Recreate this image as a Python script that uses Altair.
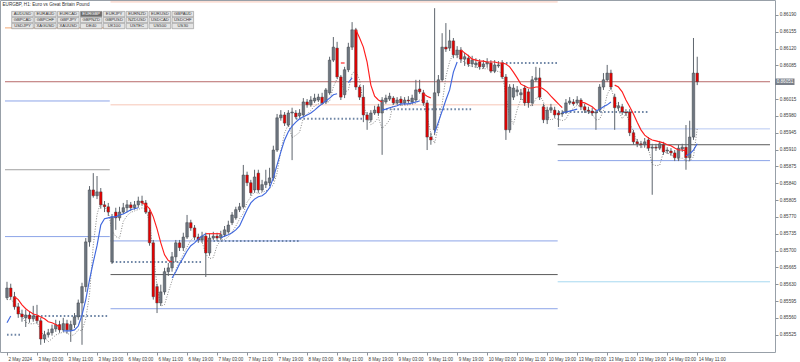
import altair as alt
import pandas as pd

TITLE_TEXT = "EURGBP, H1:  Euro vs Great Britain Pound"
BUTTONS = ["AUDUSD", "EURAUD", "EURCAD", "EURGBP", "EURJPY", "EURNZD", "EURUSD", "GBPAUD",
           "GBPCAD", "GBPCHF", "GBPJPY", "GBPNZD", "GBPUSD", "NZDUSD", "USDCAD", "USDCHF",
           "USDJPY", "XAGUSD", "XAUUSD", "DE40", "UK100", "USTEC", "US500", "US30"]
ACTIVE = "EURGBP"

TIME_LABELS = ["2 May 2024", "3 May 03:00", "3 May 11:00", "3 May 19:00", "6 May 03:00",
               "6 May 11:00", "6 May 19:00", "7 May 03:00", "7 May 11:00", "7 May 19:00",
               "8 May 03:00", "8 May 11:00", "8 May 19:00", "9 May 03:00", "9 May 11:00",
               "9 May 19:00", "10 May 03:00", "10 May 11:00", "10 May 19:00", "13 May 03:00",
               "13 May 11:00", "13 May 19:00", "14 May 03:00", "14 May 11:00"]

OPEN = [
    0.85602, 0.85622, 0.85604, 0.85583, 0.85568, 0.85560, 0.85566, 0.85558, 0.85564, 0.85554,
    0.85516, 0.85525, 0.85529, 0.85537, 0.85546, 0.85535, 0.85548, 0.85535, 0.85546, 0.85562,
    0.85591, 0.85625, 0.85718, 0.85826, 0.85814, 0.85822, 0.85795, 0.85791, 0.85676, 0.85780,
    0.85768, 0.85780, 0.85789, 0.85795, 0.85789, 0.85795, 0.85803, 0.85799, 0.85780, 0.85716,
    0.85625, 0.85591, 0.85614, 0.85656, 0.85664, 0.85687, 0.85716, 0.85706, 0.85728, 0.85758,
    0.85747, 0.85728, 0.85722, 0.85730, 0.85695, 0.85726, 0.85730, 0.85726, 0.85733, 0.85739,
    0.85758, 0.85768, 0.85785, 0.85791, 0.85857, 0.85841, 0.85826, 0.85861, 0.85826, 0.85837,
    0.85841, 0.85851, 0.85909, 0.85976, 0.85982, 0.85961, 0.85986, 0.85986, 0.85980, 0.85982,
    0.86009, 0.86003, 0.86011, 0.86013, 0.86019, 0.86009, 0.86028, 0.86096, 0.86121, 0.86061,
    0.86024, 0.86076, 0.86123, 0.86159, 0.86040, 0.86019, 0.85982, 0.85972, 0.85986, 0.85999,
    0.85986, 0.86009, 0.86015, 0.86017, 0.86007, 0.86015, 0.86007, 0.86013, 0.86009, 0.86013,
    0.86036, 0.86028, 0.86007, 0.85936, 0.85951, 0.86028, 0.86055, 0.86123, 0.86121, 0.86136,
    0.86107, 0.86117, 0.86098, 0.86100, 0.86088, 0.86086, 0.86092, 0.86082, 0.86088, 0.86090,
    0.86073, 0.86084, 0.86090, 0.86061, 0.85951, 0.86019, 0.86030, 0.86024, 0.86038, 0.86030,
    0.86007, 0.86055, 0.86059, 0.85999, 0.85972, 0.85992, 0.85992, 0.85986, 0.85984, 0.85988,
    0.86007, 0.86009, 0.86007, 0.86013, 0.85999, 0.85992, 0.85990, 0.85986, 0.85992, 0.86040,
    0.86055, 0.86069, 0.86019, 0.85997, 0.85999, 0.85988, 0.85988, 0.85945, 0.85926, 0.85922,
    0.85920, 0.85930, 0.85913, 0.85915, 0.85913, 0.85920, 0.85907, 0.85907, 0.85903, 0.85893,
    0.85911, 0.85915, 0.85893, 0.85936, 0.86069]
HIGH = [
    0.85635, 0.85631, 0.85614, 0.85591, 0.85577, 0.85577, 0.85573, 0.85585, 0.85587, 0.85560,
    0.85533, 0.85537, 0.85546, 0.85556, 0.85554, 0.85560, 0.85556, 0.85554, 0.85570, 0.85598,
    0.85633, 0.85726, 0.85834, 0.85861, 0.85855, 0.85830, 0.85803, 0.85799, 0.85776, 0.85789,
    0.85791, 0.85799, 0.85805, 0.85801, 0.85803, 0.85812, 0.85814, 0.85805, 0.85785, 0.85722,
    0.85631, 0.85629, 0.85664, 0.85674, 0.85697, 0.85722, 0.85722, 0.85737, 0.85774, 0.85764,
    0.85753, 0.85735, 0.85739, 0.85737, 0.85735, 0.85739, 0.85737, 0.85741, 0.85751, 0.85762,
    0.85780, 0.85791, 0.85799, 0.85878, 0.85864, 0.85847, 0.85868, 0.85868, 0.85847, 0.85868,
    0.85872, 0.85918, 0.85984, 0.85992, 0.85988, 0.85992, 0.85997, 0.85992, 0.85994, 0.86017,
    0.86015, 0.86021, 0.86026, 0.86026, 0.86028, 0.86038, 0.86103, 0.86144, 0.86134, 0.86065,
    0.86082, 0.86132, 0.86175, 0.86163, 0.86044, 0.86044, 0.85988, 0.85992, 0.86001, 0.86005,
    0.86019, 0.86024, 0.86028, 0.86021, 0.86019, 0.86021, 0.86019, 0.86021, 0.86024, 0.86055,
    0.86055, 0.86034, 0.86013, 0.85945, 0.86204, 0.86065, 0.86152, 0.86173, 0.86159, 0.86142,
    0.86125, 0.86123, 0.86111, 0.86107, 0.86105, 0.86100, 0.86098, 0.86096, 0.86100, 0.86096,
    0.86096, 0.86094, 0.86096, 0.86067, 0.86046, 0.86046, 0.86042, 0.86036, 0.86044, 0.86036,
    0.86063, 0.86082, 0.86080, 0.86005, 0.85999, 0.86005, 0.85999, 0.85992, 0.85992, 0.86015,
    0.86019, 0.86015, 0.86021, 0.86017, 0.86005, 0.85999, 0.85997, 0.85994, 0.86046, 0.86069,
    0.86086, 0.86076, 0.86026, 0.86009, 0.86005, 0.85994, 0.85994, 0.85951, 0.85932, 0.85928,
    0.85934, 0.85936, 0.85922, 0.85922, 0.85928, 0.85926, 0.85915, 0.85913, 0.85909, 0.85920,
    0.85922, 0.85961, 0.85970, 0.86142, 0.86103]
LOW = [
    0.85598, 0.85598, 0.85577, 0.85560, 0.85552, 0.85541, 0.85550, 0.85552, 0.85548, 0.85504,
    0.85508, 0.85519, 0.85523, 0.85531, 0.85529, 0.85531, 0.85527, 0.85510, 0.85539, 0.85556,
    0.85504, 0.85614, 0.85708, 0.85810, 0.85807, 0.85787, 0.85780, 0.85772, 0.85672, 0.85743,
    0.85762, 0.85776, 0.85780, 0.85782, 0.85785, 0.85789, 0.85793, 0.85776, 0.85710, 0.85598,
    0.85570, 0.85585, 0.85608, 0.85647, 0.85656, 0.85676, 0.85699, 0.85699, 0.85724, 0.85741,
    0.85722, 0.85716, 0.85716, 0.85645, 0.85689, 0.85722, 0.85720, 0.85722, 0.85728, 0.85735,
    0.85753, 0.85764, 0.85780, 0.85787, 0.85834, 0.85814, 0.85820, 0.85820, 0.85822, 0.85830,
    0.85834, 0.85845, 0.85905, 0.85970, 0.85959, 0.85957, 0.85888, 0.85974, 0.85976, 0.85978,
    0.85997, 0.85999, 0.86007, 0.86009, 0.86003, 0.86005, 0.86024, 0.86092, 0.86057, 0.86013,
    0.86017, 0.86071, 0.86117, 0.86034, 0.86013, 0.85967, 0.85951, 0.85967, 0.85982, 0.85980,
    0.85899, 0.86005, 0.86011, 0.86003, 0.86003, 0.86001, 0.86003, 0.86005, 0.86005, 0.86009,
    0.86026, 0.86001, 0.85909, 0.85920, 0.85940, 0.86021, 0.86051, 0.86113, 0.86115, 0.86100,
    0.86100, 0.86090, 0.86084, 0.86082, 0.86082, 0.86080, 0.86076, 0.86078, 0.86080, 0.86069,
    0.86069, 0.86080, 0.86057, 0.85930, 0.85945, 0.86013, 0.86021, 0.86013, 0.86001, 0.85997,
    0.86001, 0.86051, 0.86013, 0.85965, 0.85963, 0.85986, 0.85976, 0.85957, 0.85978, 0.85984,
    0.86003, 0.86001, 0.86003, 0.85992, 0.85986, 0.85984, 0.85980, 0.85951, 0.85988, 0.86034,
    0.86051, 0.86034, 0.85951, 0.85990, 0.85982, 0.85980, 0.85938, 0.85920, 0.85915, 0.85913,
    0.85915, 0.85907, 0.85816, 0.85907, 0.85909, 0.85899, 0.85901, 0.85897, 0.85886, 0.85886,
    0.85905, 0.85868, 0.85886, 0.85930, 0.86044]
CLOSE = [
    0.85622, 0.85604, 0.85583, 0.85568, 0.85562, 0.85566, 0.85558, 0.85564, 0.85554, 0.85516,
    0.85525, 0.85529, 0.85537, 0.85546, 0.85535, 0.85548, 0.85535, 0.85546, 0.85562, 0.85591,
    0.85625, 0.85718, 0.85826, 0.85814, 0.85822, 0.85795, 0.85791, 0.85780, 0.85770, 0.85768,
    0.85780, 0.85789, 0.85795, 0.85789, 0.85795, 0.85803, 0.85799, 0.85780, 0.85716, 0.85604,
    0.85591, 0.85614, 0.85656, 0.85664, 0.85687, 0.85716, 0.85706, 0.85728, 0.85758, 0.85747,
    0.85728, 0.85722, 0.85730, 0.85695, 0.85726, 0.85730, 0.85726, 0.85733, 0.85743, 0.85753,
    0.85774, 0.85785, 0.85791, 0.85857, 0.85841, 0.85820, 0.85853, 0.85826, 0.85837, 0.85843,
    0.85851, 0.85909, 0.85976, 0.85982, 0.85965, 0.85986, 0.85988, 0.85978, 0.85986, 0.86009,
    0.86003, 0.86013, 0.86017, 0.86019, 0.86007, 0.86034, 0.86096, 0.86123, 0.86061, 0.86019,
    0.86076, 0.86123, 0.86159, 0.86040, 0.86019, 0.85982, 0.85972, 0.85986, 0.85992, 0.85986,
    0.86013, 0.86017, 0.86021, 0.86007, 0.86013, 0.86007, 0.86013, 0.86011, 0.86017, 0.86034,
    0.86030, 0.86007, 0.85936, 0.85930, 0.86028, 0.86055, 0.86123, 0.86119, 0.86136, 0.86107,
    0.86117, 0.86098, 0.86103, 0.86088, 0.86096, 0.86090, 0.86082, 0.86088, 0.86092, 0.86073,
    0.86086, 0.86086, 0.86061, 0.85951, 0.86040, 0.86038, 0.86034, 0.86028, 0.86007, 0.86007,
    0.86055, 0.86059, 0.86019, 0.85972, 0.85992, 0.85997, 0.85982, 0.85982, 0.85986, 0.86007,
    0.86011, 0.86005, 0.86013, 0.85999, 0.85992, 0.85990, 0.85986, 0.85988, 0.86040, 0.86055,
    0.86069, 0.86040, 0.85997, 0.86001, 0.85988, 0.85986, 0.85945, 0.85926, 0.85922, 0.85920,
    0.85926, 0.85913, 0.85915, 0.85913, 0.85922, 0.85905, 0.85909, 0.85903, 0.85893, 0.85913,
    0.85915, 0.85893, 0.85936, 0.86069, 0.86051]

# trend line: (colour kind, first bar, values)
TREND = [
    ("blue", 0, [0.85550, 0.85564]),
    ("red", 2, [0.85604, 0.85598, 0.85587, 0.85579, 0.85573, 0.85568, 0.85566, 0.85562, 0.85558,
                0.85552, 0.85550, 0.85546, 0.85541]),
    ("blue", 15, [0.85533, 0.85533, 0.85533, 0.85535, 0.85543, 0.85566, 0.85598, 0.85639, 0.85676,
                  0.85710, 0.85753, 0.85766, 0.85768, 0.85770, 0.85770, 0.85774, 0.85776, 0.85780,
                  0.85785, 0.85787, 0.85789]),
    ("red", 36, [0.85799, 0.85795, 0.85787, 0.85770, 0.85745, 0.85716, 0.85691, 0.85679, 0.85676]),
    ("blue", 44, [0.85643, 0.85656, 0.85672, 0.85685, 0.85699, 0.85710, 0.85716, 0.85724, 0.85730,
                  0.85735]),
    ("red", 53, [0.85735, 0.85735, 0.85735, 0.85735, 0.85735]),
    ("blue", 57, [0.85726, 0.85730, 0.85733, 0.85737, 0.85743, 0.85751, 0.85768, 0.85785, 0.85799,
                  0.85807, 0.85812, 0.85814, 0.85820, 0.85830, 0.85851, 0.85878, 0.85905, 0.85930,
                  0.85947, 0.85959, 0.85967, 0.85974, 0.85978, 0.85982, 0.85986, 0.85992, 0.85999,
                  0.86005, 0.86011, 0.86017, 0.86024, 0.86026]),
    ("red", 89, [0.86090, 0.86090]),
    ("blue", 91, [0.86049, 0.86059]),
    ("red", 93, [0.86159, 0.86142, 0.86123, 0.86092, 0.86044, 0.86021, 0.86013, 0.86009]),
    ("blue", 100, [0.85992, 0.85994, 0.85997, 0.85999, 0.86001, 0.86005, 0.86005, 0.86005, 0.86007,
                   0.86009, 0.86011]),
    ("red", 111, [0.86026, 0.86021, 0.86017]),
    ("blue", 114, [0.85945, 0.85967, 0.85990, 0.86013, 0.86034, 0.86071, 0.86092]),
    ("red", 121, [0.86117, 0.86111, 0.86105, 0.86098, 0.86096, 0.86094, 0.86094, 0.86092, 0.86092,
                  0.86092, 0.86090, 0.86090, 0.86088, 0.86082, 0.86071, 0.86059, 0.86046, 0.86042,
                  0.86038, 0.86038, 0.86040, 0.86040, 0.86036, 0.86030, 0.86021, 0.86013, 0.86005,
                  0.85997]),
    ("blue", 148, [0.85986, 0.85988, 0.85990, 0.85992, 0.85994]),
    ("red", 153, [0.86009, 0.86007, 0.86003, 0.85999, 0.85992]),
    ("blue", 157, [0.85990, 0.85994, 0.85999, 0.86003, 0.86009]),
    ("red", 162, [0.86044, 0.86040, 0.86030, 0.86013, 0.85999, 0.85984, 0.85967, 0.85951, 0.85940,
                  0.85934, 0.85930, 0.85928, 0.85926, 0.85924, 0.85920, 0.85918, 0.85913, 0.85909,
                  0.85909, 0.85907]),
    ("blue", 181, [0.85897, 0.85901, 0.85909, 0.85922]),
]

# dotted support levels (price, first bar, last bar)
SUP_PRICE = [0.85525, 0.85564, 0.85676, 0.85720, 0.85974, 0.85994, 0.86090, 0.85988]
SUP_START = [0, 5, 28, 53, 77, 100, 132, 147]
SUP_END = [4, 27, 52, 78, 95, 124, 147, 171]

# drawn horizontal levels (price, from bar, to bar, kind)
LEVEL_PRICE = [0.86163, 0.86011, 0.85868, 0.85729,
               0.86217, 0.86003, 0.85720, 0.85650, 0.85579,
               0.85953, 0.85920, 0.85887, 0.85635]
LEVEL_START = [-0.53, -0.53, -0.53, -0.53,
               27.6, 27.6, 27.6, 27.6, 27.6,
               146.8, 146.8, 146.8, 146.8]
LEVEL_END = [27.4, 27.4, 27.4, 27.4,
             146.8, 146.8, 146.8, 146.8, 146.8,
             203.4, 203.4, 203.4, 203.4]
LEVEL_KIND = ["orange", "blue", "gray", "blue",
              "pink", "pink", "blue", "black", "blue",
              "lavender", "black", "blue", "cyan"]

CURRENT_PRICE = 0.86051
Y_TICKS = [0.86190, 0.86155, 0.86120, 0.86085, 0.86015, 0.85980, 0.85945, 0.85910, 0.85875,
           0.85840, 0.85805, 0.85770, 0.85735, 0.85700, 0.85665, 0.85630, 0.85595, 0.85560,
           0.85525]
X_DOMAIN = [-0.53, 203.4]
Y_DOMAIN = [0.85489, 0.86221]

assert len(OPEN) == len(HIGH) == len(LOW) == len(CLOSE) == 185

# ---------------------------------------------------------------- frames
candles = pd.DataFrame({"bar": list(range(len(OPEN))), "open": OPEN, "high": HIGH,
                        "low": LOW, "close": CLOSE})
candles["dir"] = ["up" if c >= o else "down" for o, c in zip(OPEN, CLOSE)]

trend_rows = []
for seg, (kind, start, vals) in enumerate(TREND):
    for k, v in enumerate(vals):
        trend_rows.append({"seg": seg, "kind": kind, "bar": start + k, "value": v})
trend = pd.DataFrame(trend_rows)

support = pd.DataFrame({"price": SUP_PRICE, "start": SUP_START, "end": SUP_END})
levels = pd.DataFrame({"price": LEVEL_PRICE, "start": LEVEL_START, "end": LEVEL_END,
                       "kind": LEVEL_KIND})
current = pd.DataFrame({"price": [CURRENT_PRICE], "start": [X_DOMAIN[0]], "end": [X_DOMAIN[1]],
                        "label": [f"{CURRENT_PRICE:.5f}"]})
buttons = pd.DataFrame({"name": BUTTONS, "idx": list(range(len(BUTTONS)))})
buttons["active"] = buttons["name"] == ACTIVE

FONT = "Liberation Sans"
xs = alt.Scale(domain=X_DOMAIN, nice=False, zero=False)
ys = alt.Scale(domain=Y_DOMAIN, nice=False, zero=False)
label_js = "[" + ",".join("'" + t + "'" for t in TIME_LABELS) + "]"
X_AX = alt.Axis(values=list(range(0, 185, 8)), labelExpr=label_js + "[round(datum.value/8)]",
                labelAlign="left", labelBaseline="top", labelOffset=1, labelPadding=1,
                tickSize=3, tickColor="#8c939b", domain=False, grid=False, title=None,
                labelFontSize=4.5, labelFont=FONT, labelColor="#3a3a3a",
                labelOverlap=False, labelFlush=False)
Y_AX = alt.Axis(orient="right", values=Y_TICKS, format=".5f", tickSize=3, tickColor="#8c939b",
                labelPadding=1.2, domain=False, grid=False, title=None, labelFontSize=4.6,
                labelFont=FONT, labelColor="#3a3a3a", labelOverlap=False, labelFlush=False)


def X(field):
    return alt.X(f"{field}:Q", scale=xs, axis=X_AX)


def Y(field):
    return alt.Y(f"{field}:Q", scale=ys, axis=Y_AX)


LEVEL_COLORS = {"orange": "#f2a772", "blue": "#8ca4e8", "gray": "#a0a0a0", "pink": "#f7c6b6",
                "black": "#5a5a5a", "lavender": "#b8c8f2", "cyan": "#a6d8f0"}
level_layers = [
    alt.Chart(levels).transform_filter(alt.datum.kind == k).mark_rule(
        strokeWidth=1, clip=True, color=c).encode(x=X("start"), x2="end", y=Y("price"))
    for k, c in LEVEL_COLORS.items()
]

current_line = alt.Chart(current).mark_rule(strokeWidth=1, color="#b86a6a", clip=True).encode(
    x=X("start"), x2="end", y=Y("price"))

support_layer = alt.Chart(support).mark_rule(strokeWidth=2, strokeDash=[1.6, 2.2],
                                             color="#6f86a6").encode(
    x=X("start"), x2="end", y=Y("price"))

dotted_ma = alt.Chart(candles).transform_window(
    ma="mean(low)", frame=[-2, 0], sort=[alt.SortField("bar")]
).mark_line(strokeDash=[1, 1.6], strokeWidth=0.9, color="#7a7a7a").encode(
    x=X("bar"), y=Y("ma"))

wicks = alt.Chart(candles).mark_rule(strokeWidth=1, color="#5e656d").encode(
    x=X("bar"), y=Y("low"), y2="high")

bodies = alt.Chart(candles).mark_bar(size=2.6, stroke="#3b3f44", strokeWidth=0.45).encode(
    x=X("bar"), y=Y("open"), y2="close",
    fill=alt.condition("datum.dir == 'up'", alt.value("#6e7680"), alt.value("#e50000")))

trend_red = alt.Chart(trend).transform_filter(alt.datum.kind == "red").mark_line(
    strokeWidth=1.15, color="#ff1e1e").encode(x=X("bar"), y=Y("value"), detail="seg:N")
trend_blue = alt.Chart(trend).transform_filter(alt.datum.kind == "blue").mark_line(
    strokeWidth=1.15, color="#3f67de").encode(x=X("bar"), y=Y("value"), detail="seg:N")

price_box = alt.Chart(current).mark_tick(orient="horizontal", size=19, thickness=6.5,
                                         color="#414a58", clip=False).encode(
    x=alt.value(785), y=Y("price"))
price_text = alt.Chart(current).mark_text(fontSize=4.6, font=FONT, color="white",
                                          align="center", baseline="middle").encode(
    x=alt.value(785), y=Y("price"), text="label:N")

btn_base = alt.Chart(buttons).transform_calculate(
    col="datum.idx % 8", row="floor(datum.idx / 8)"
).transform_calculate(
    x0="11.7 + 22.9 * datum.col", x1="11.7 + 22.9 * datum.col + 21.6",
    y0="11.4 + 5.95 * datum.row", y1="11.4 + 5.95 * datum.row + 5.4",
    xc="11.7 + 22.9 * datum.col + 10.8", yc="11.4 + 5.95 * datum.row + 2.8")
btn_rect = btn_base.mark_rect(stroke="#8f8f8f", strokeWidth=0.6).encode(
    x=alt.X("x0:Q", scale=None), x2="x1:Q", y=alt.Y("y0:Q", scale=None), y2="y1:Q",
    fill=alt.condition("datum.active", alt.value("#6c6c6c"), alt.value("#e4e4e4")))
btn_text = btn_base.mark_text(fontSize=4.2, font=FONT, align="center", baseline="middle").encode(
    x=alt.X("xc:Q", scale=None), y=alt.Y("yc:Q", scale=None), text="name:N",
    color=alt.condition("datum.active", alt.value("#ffffff"), alt.value("#333333")))
title_text = alt.Chart(pd.DataFrame({"t": [TITLE_TEXT]})).mark_text(
    fontSize=4.6, font=FONT, align="left", baseline="middle", color="#333333").encode(
    x=alt.value(2.5), y=alt.value(5), text="t:N")

chart = alt.layer(
    *level_layers, current_line, support_layer, dotted_ma, wicks, bodies, trend_red, trend_blue,
    price_box, price_text, btn_rect, btn_text, title_text
).properties(
    width=775, height=352,
    autosize=alt.AutoSizeParams(type="none"),
    padding={"left": 0, "top": 0, "right": 25, "bottom": 10},
    background="white",
).configure_view(stroke="#98a0a8", strokeWidth=1)

chart.save("out.html", embed_options={"renderer": "svg", "actions": False})
